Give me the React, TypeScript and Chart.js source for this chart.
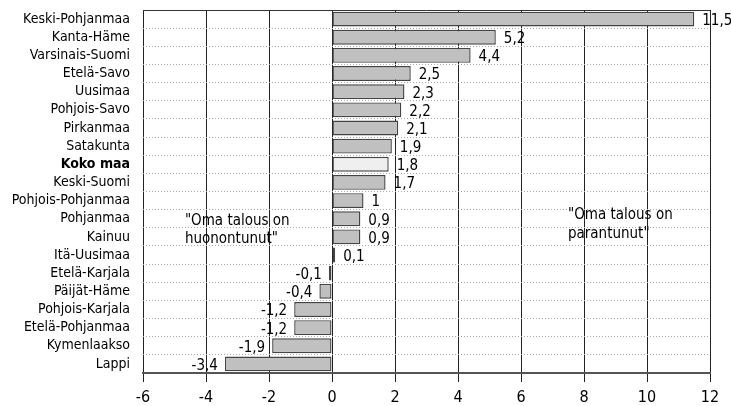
import React, { useEffect, useRef } from "react";
import { Chart, registerables } from "chart.js";

Chart.register(...registerables);

const categories = [
  "Keski-Pohjanmaa", "Kanta-Häme", "Varsinais-Suomi", "Etelä-Savo", "Uusimaa",
  "Pohjois-Savo", "Pirkanmaa", "Satakunta", "Koko maa", "Keski-Suomi",
  "Pohjois-Pohjanmaa", "Pohjanmaa", "Kainuu", "Itä-Uusimaa", "Etelä-Karjala",
  "Päijät-Häme", "Pohjois-Karjala", "Etelä-Pohjanmaa", "Kymenlaakso", "Lappi",
];
const values = [11.5, 5.2, 4.4, 2.5, 2.3, 2.2, 2.1, 1.9, 1.8, 1.7, 1, 0.9, 0.9, 0.1, -0.1, -0.4, -1.2, -1.2, -1.9, -3.4];
const highlight = "Koko maa";
const xTicks = [-6, -4, -2, 0, 2, 4, 6, 8, 10, 12];
const leftNote = ['"Oma talous on', 'huonontunut"'];
const rightNote = ['"Oma talous on', 'parantunut"'];

const FONT = '"DejaVu Sans Condensed", "Liberation Sans Narrow", "Noto Sans", sans-serif';

const fmt = (v: number) => String(v).replace(".", ",");

export default function App() {
  const ref = useRef<HTMLCanvasElement | null>(null);
  useEffect(() => {
    document.body.style.margin = "0";
    const ctx = ref.current!;
    const labelPlugin = {
      id: "valueLabels",
      afterDatasetsDraw(chart: any) {
        const c = chart.ctx;
        const meta = chart.getDatasetMeta(0);
        c.save();
        c.font = `15px ${FONT}`;
        c.fillStyle = "#000";
        c.textBaseline = "middle";
        meta.data.forEach((bar: any, i: number) => {
          const v = values[i];
          if (v >= 0) {
            c.textAlign = "left";
            c.fillText(fmt(v), bar.x + 8, bar.y + 2);
          } else {
            c.textAlign = "right";
            c.fillText(fmt(v), bar.x - 7, bar.y + 2);
          }
        });
        const xs = chart.scales.x;
        const ys = chart.scales.y;
        c.font = `15px ${FONT}`;
        c.textAlign = "left";
        const lx = xs.getPixelForValue(-4.67);
        const rx = xs.getPixelForValue(7.49);
        const y11 = ys.getPixelForValue(11);
        const y12 = ys.getPixelForValue(12);
        c.fillText(leftNote[0], lx, y11 + 2);
        c.fillText(leftNote[1], lx, y12 + 2);
        c.fillText(rightNote[0], rx, y11 - 4);
        c.fillText(rightNote[1], rx, y12 - 3);
        const a = chart.chartArea;
        c.strokeStyle = "#333";
        c.lineWidth = 1;
        c.beginPath();
        c.moveTo(a.left, a.top + 0.5);
        c.lineTo(a.right, a.top + 0.5);
        c.stroke();
        c.restore();
      },
    };
    const chart = new Chart(ctx, {
      type: "bar",
      data: {
        labels: categories,
        datasets: [
          {
            data: values,
            backgroundColor: categories.map((c) => (c === highlight ? "#efefef" : "#c0c0c0")),
            borderColor: "#444",
            borderWidth: 1.4,
            borderSkipped: false,
            barPercentage: 0.82,
            categoryPercentage: 1,
          },
        ],
      },
      options: {
        indexAxis: "y",
        animation: false,
        responsive: false,
        maintainAspectRatio: false,
        layout: { padding: { top: 10, right: 21, left: 0, bottom: 0 } },
        plugins: { legend: { display: false }, tooltip: { enabled: false } },
        scales: {
          x: {
            min: -6,
            max: 12,
            afterBuildTicks: (s: any) => {
              s.ticks = xTicks.map((v) => ({ value: v }));
            },
            afterFit: (s: any) => {
              s.height = 33;
            },
            ticks: {
              color: "#000",
              font: { family: FONT, size: 16 },
              padding: 6,
              callback: (v: any) => String(v),
            },
            grid: {
              color: "#222",
              lineWidth: 1,
              tickLength: 9,
              drawTicks: true,
            },
            border: { display: true, color: "#555", width: 2 },
          },
          y: {
            afterFit: (s: any) => {
              s.width = 143;
              s.paddingTop = 0;
              s.paddingBottom = 0;
            },
            ticks: {
              color: "#000",
              padding: 13,
              autoSkip: false,
              font: (c: any) => ({
                family: FONT,
                size: 14,
                weight: categories[c.index] === highlight ? "bold" : "normal",
              }),
            },
            grid: {
              color: "#aaa",
              lineWidth: 1,
              drawTicks: false,
              offset: true,
            },
            border: { display: false, dash: [1, 2] },
          },
        },
      },
      plugins: [labelPlugin],
    } as any);
    return () => chart.destroy();
  }, []);
  return (
    <div style={{ position: "absolute", left: 0, top: 0 }}>
      <canvas ref={ref} width={731} height={406} style={{ width: 731, height: 406 }} />
    </div>
  );
}
